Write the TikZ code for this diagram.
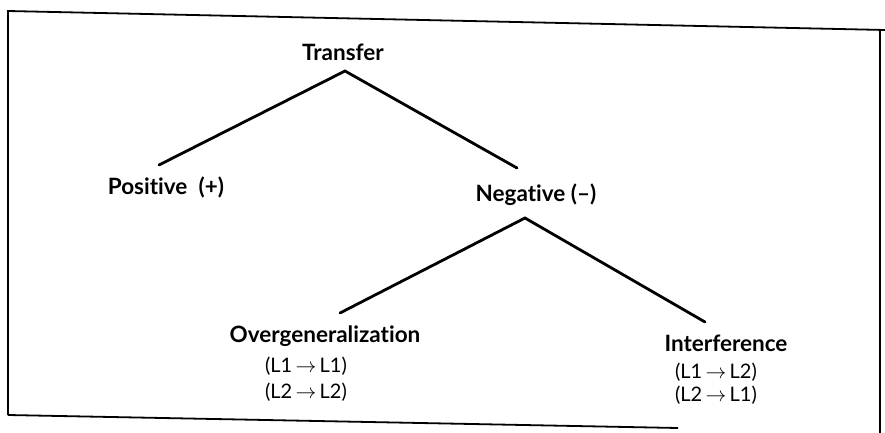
\documentclass[tikz,border=0pt]{standalone}
\usepackage{fontspec}
\setmainfont{Lato}[Ligatures={NoCommon,NoRequired,NoContextual}]
\begin{document}
\begin{tikzpicture}[x=1pt,y=-1pt,
  head/.style={font=\fontsize{22.5}{26}\selectfont\bfseries, inner sep=0pt, anchor=center},
  sub/.style={font=\fontsize{20}{24}\selectfont, inner sep=0pt, anchor=center},
  branch/.style={line width=2.8pt, line cap=round},
  frame/.style={line width=1.8pt}]
\useasboundingbox (0,0) rectangle (885,433);
% frame
\draw[frame] (8,415) -- (8,11) -- (885,30);
\draw[frame] (880,30) -- (880,433);
\draw[frame] (8,415) -- (678,428);
% nodes
\node[head] (tr) at (343,52) {Transfer};
\node[head] (pos) at (166,187) {Positive\enspace(+)};
\node[head] (neg) at (536,195) {Negative (--)};
\node[head] (ov) at (325,336) {Overgeneralization};
\node[sub] (ov1) at (306,366) {(L1\,$\rightarrow$\,L1)};
\node[sub] (ov2) at (306,392) {(L2\,$\rightarrow$\,L2)};
\node[head] (in) at (726,343) {Interference};
\node[sub] (in1) at (716,372) {(L1\,$\rightarrow$\,L2)};
\node[sub] (in2) at (716,395) {(L2\,$\rightarrow$\,L1)};
% branch points
\coordinate (trA) at (345,71);
\coordinate (posE) at (159,165);
\coordinate (negE) at (517,168);
\coordinate (negA) at (525,218);
\coordinate (ovE) at (340,313);
\coordinate (inE) at (705,322);
\draw[branch] (posE) -- (trA) -- (negE);
\draw[branch] (ovE) -- (negA) -- (inE);
\end{tikzpicture}
\end{document}
